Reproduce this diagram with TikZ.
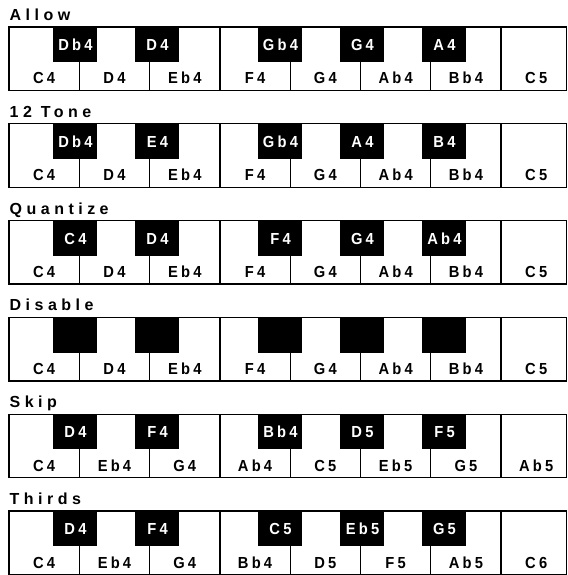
\documentclass[tikz,border=0pt]{standalone}
\usepackage{fontspec}
\newfontfamily\keyfont{Liberation Sans}[LetterSpace=20,FakeStretch=0.92]
\newfontfamily\titlefont{Liberation Sans}[LetterSpace=28]
\tikzset{
  keyline/.style={draw=black, line width=1.3pt},
  blackkey/.style={fill=black, draw=black, line width=0.6pt},
  wlab/.style={font=\keyfont\bfseries\fontsize{16}{16}\selectfont, inner sep=0pt, anchor=base, text=black},
  blab/.style={font=\keyfont\bfseries\fontsize{16}{16}\selectfont, inner sep=0pt, anchor=base, text=white},
  tlab/.style={font=\titlefont\bfseries\fontsize{16}{17}\selectfont, inner sep=0pt, anchor=base west},
}
\newcommand\kbrow[5]{%
  \pgfmathsetmacro\rowtop{27+96.8*#1}
  \pgfmathsetmacro\rowbot{\rowtop+63.5}
  \node[tlab] (title#1) at (9.5,\rowtop-6.5) {#2};
  \draw[keyline] (9,\rowtop) rectangle (566.4,\rowbot);
  \foreach \k in {1,...,7}{
    \pgfmathsetmacro\xx{9+70.3*\k}
    \draw[keyline] (\xx,\rowtop) -- (\xx,\rowbot);
  }
  \foreach \xl [count=\i] in {53,135,258,340,422}{
    \draw[blackkey] (\xl,\rowtop) rectangle (\xl+43,\rowtop+34.5);
  }
  \foreach \lab [count=\i from 0] in {#4}{
    \pgfmathsetmacro\xc{9+70.3*\i+35.15}
    \node[wlab] (w#1-\i) at (\xc,\rowtop+57) {\lab};
  }
  \ifx&#3&\else
  \foreach \lab/\xl [count=\i] in {#3}{
    \node[blab] (b#1-\i) at (\xl+22.5,\rowtop+23.5) {\lab};
  }
  \fi
}
\begin{document}
\begin{tikzpicture}[x=1pt,y=-1pt]
\useasboundingbox (0,0) rectangle (567,575);
\kbrow{0}{Allow}{Db4/53,D4/135,Gb4/258,G4/340,A4/422}{C4,D4,Eb4,F4,G4,Ab4,Bb4,C5}{}
\kbrow{1}{12 Tone}{Db4/53,E4/135,Gb4/258,A4/340,B4/422}{C4,D4,Eb4,F4,G4,Ab4,Bb4,C5}{}
\kbrow{2}{Quantize}{C4/53,D4/135,F4/258,G4/340,Ab4/422}{C4,D4,Eb4,F4,G4,Ab4,Bb4,C5}{}
\kbrow{3}{Disable}{}{C4,D4,Eb4,F4,G4,Ab4,Bb4,C5}{}
\kbrow{4}{Skip}{D4/53,F4/135,Bb4/258,D5/340,F5/422}{C4,Eb4,G4,Ab4,C5,Eb5,G5,Ab5}{}
\kbrow{5}{Thirds}{D4/53,F4/135,C5/258,Eb5/340,G5/422}{C4,Eb4,G4,Bb4,D5,F5,Ab5,C6}{}
\end{tikzpicture}
\end{document}
